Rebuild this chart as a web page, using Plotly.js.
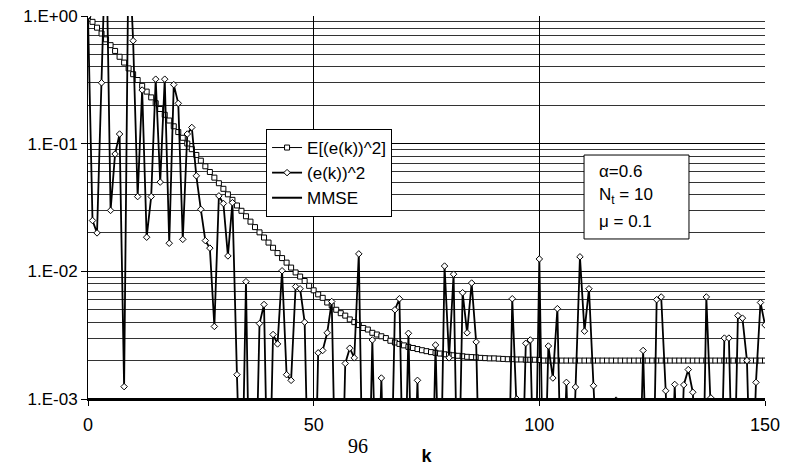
<!DOCTYPE html>
<html>
<head>
<meta charset="utf-8">
<script src="https://cdn.plot.ly/plotly-3.0.1.min.js"></script>
<style>html,body{margin:0;padding:0;background:#fff;}#chart{width:787px;height:466px;}</style>
</head>
<body>
<div id="chart"></div>
<script>
// iteration index k = 0..150
const k = Array.from({length: 151}, (_, i) => i);

// E[(e(k))^2]
const meanSq = [
 1.0, 0.9002, 0.8104, 0.7295, 0.6567, 0.5911, 0.5324, 0.4793, 0.4316, 0.3886,
 0.3500, 0.3152, 0.2839, 0.2557, 0.2304, 0.2075, 0.1869, 0.1684, 0.1518, 0.1368,
 0.1233, 0.1112, 0.1003, 0.0905, 0.0816, 0.0736, 0.0665, 0.0600, 0.0542, 0.0490,
 0.0443, 0.0401, 0.0363, 0.0328, 0.0298, 0.0270, 0.0245, 0.0222, 0.0202, 0.0184,
 0.0168, 0.0153, 0.0139, 0.0127, 0.0117, 0.0107, 0.0098, 0.0091, 0.0084, 0.0077,
 0.0071, 0.0066, 0.0062, 0.0057, 0.0054, 0.0050, 0.0047, 0.0045, 0.0042, 0.0040,
 0.0038, 0.0036, 0.0035, 0.0033, 0.0032, 0.0031, 0.0030, 0.00286, 0.00277, 0.00270,
 0.00263, 0.00256, 0.00251, 0.00246, 0.00241, 0.00237, 0.00233, 0.00230, 0.00227, 0.00224,
 0.00222, 0.00220, 0.00218, 0.00216, 0.00214, 0.00213, 0.00212, 0.00210, 0.00209, 0.00208,
 0.00208, 0.00207, 0.00206, 0.00205, 0.00205, 0.00204, 0.00204, 0.00203, 0.00203, 0.00203,
 0.00202, 0.002, 0.002, 0.002, 0.002, 0.002, 0.002, 0.002, 0.002, 0.002,
 0.002, 0.002, 0.002, 0.002, 0.002, 0.002, 0.002, 0.002, 0.002, 0.002,
 0.002, 0.002, 0.002, 0.002, 0.002, 0.002, 0.002, 0.002, 0.002, 0.002,
 0.002, 0.002, 0.002, 0.002, 0.002, 0.002, 0.002, 0.002, 0.002, 0.002,
 0.002, 0.002, 0.002, 0.002, 0.002, 0.002, 0.002, 0.002, 0.002, 0.002,
 0.002
];

// (e(k))^2 single realisation (values below 1E-03 fall off the chart)
const instSq = [
 1.0, 0.025, 0.020, 0.30, 5.0, 0.030, 0.083, 0.119, 0.00125, 4.0,
 0.64, 0.0385, 0.263, 0.0185, 0.0385, 0.32, 0.050, 0.32, 0.0166, 0.29,
 0.207, 0.0178, 0.119, 0.134, 0.056, 0.0306, 0.0174, 0.0152, 0.0037, 0.039,
 0.034, 0.0132, 0.0345, 0.00155, 0.0001, 0.0083, 0.00005, 0.0001, 0.0039, 0.0055,
 0.00008, 0.0032, 0.0027, 0.0101, 0.00155, 0.0014, 0.0076, 0.0073, 0.0040, 0.0001,
 0.00005, 0.0023, 0.0024, 0.0033, 0.0058, 0.0001, 0.00006, 0.0019, 0.0025, 0.0021,
 0.0137, 0.0001, 0.00007, 0.0029, 0.0001, 0.00146, 0.00005, 0.0001, 0.0050, 0.0061,
 0.0001, 0.00327, 0.00008, 0.0014, 0.00005, 0.0001, 0.00006, 0.00265, 0.0001, 0.011,
 0.0021, 0.0095, 0.0001, 0.0068, 0.0033, 0.0081, 0.0028, 0.00008, 0.00005, 0.0001,
 0.00006, 0.00005, 0.0001, 0.00008, 0.0061, 0.001, 0.0001, 0.00273, 0.0029, 0.0001,
 0.0125, 0.0001, 0.0026, 0.00146, 0.0051, 0.0001, 0.00135, 0.0001, 0.00124, 0.013,
 0.0034, 0.0073, 0.00127, 0.0001, 0.00005, 0.00008, 0.0001, 0.00098, 0.0001, 0.00005,
 0.00008, 0.00005, 0.0001, 0.0024, 0.0001, 0.00006, 0.0060, 0.0063, 0.00116, 0.0001,
 0.0013, 0.0001, 0.00129, 0.0017, 0.00113, 0.0001, 0.00005, 0.0063, 0.00102, 0.0001,
 0.00008, 0.0030, 0.0030, 0.0001, 0.0045, 0.0043, 0.0020, 0.0001, 0.00135, 0.0057,
 0.0038
];

// MMSE level
const mmseK = [0, 150];
const mmse = [0.001, 0.001];

const yTickVals = [0.001, 0.01, 0.1, 1];
const yTickText = ['1.E-03', '1.E-02', '1.E-01', '1.E+00'];
const xTickVals = [0, 50, 100, 150];

const FONT = 'Arial, "Liberation Sans", sans-serif';

const traces = [
  {
    x: k, y: meanSq, name: 'E[(e(k))^2]', type: 'scatter', mode: 'lines+markers',
    legendgroup: 'a',
    line: {color: '#000', width: 1},
    marker: {symbol: 'square', size: 5, color: '#fff', line: {color: '#000', width: 1}},
    cliponaxis: true
  },
  {
    x: k, y: instSq, name: '(e(k))^2', type: 'scatter', mode: 'lines+markers',
    legendgroup: 'b',
    line: {color: '#000', width: 1.8},
    marker: {symbol: 'diamond', size: 5, color: '#fff', line: {color: '#000', width: 1}},
    cliponaxis: true
  },
  {
    x: mmseK, y: mmse, name: 'MMSE', type: 'scatter', mode: 'lines',
    legendgroup: 'c',
    line: {color: '#000', width: 2},
    cliponaxis: false
  }
];

const layout = {
  width: 787, height: 466,
  margin: {l: 88, r: 22, t: 16, b: 67, pad: 0},
  paper_bgcolor: '#fff', plot_bgcolor: '#fff',
  font: {family: FONT, color: '#000', size: 17},
  showlegend: true,
  legend: {
    x: 0.263, y: 0.705, xanchor: 'left', yanchor: 'top',
    bgcolor: '#fff', bordercolor: '#000', borderwidth: 1,
    font: {family: FONT, size: 17, color: '#000'},
    tracegroupgap: 0, itemwidth: 30
  },
  xaxis: {
    range: [0, 150], tickmode: 'array', tickvals: xTickVals,
    ticks: 'outside', ticklen: 5, tickcolor: '#000', tickwidth: 1,
    showline: true, linecolor: '#000', linewidth: 2,
    showgrid: true, gridcolor: '#000', gridwidth: 1, zeroline: false,
    tickfont: {family: FONT, size: 18, color: '#000'},
    ticklabelstandoff: 3,
    title: {text: '<b>k</b>', font: {family: FONT, size: 18, color: '#000'}, standoff: 16}
  },
  yaxis: {
    type: 'log', range: [-3, 0], tickmode: 'array', tickvals: yTickVals, ticktext: yTickText,
    ticks: 'outside', ticklen: 6, tickcolor: '#000', tickwidth: 1,
    showline: true, linecolor: '#000', linewidth: 1,
    showgrid: true, gridcolor: '#000', gridwidth: 1, zeroline: false,
    tickfont: {family: FONT, size: 17, color: '#000'},
    minor: {dtick: 'D1', showgrid: true, gridcolor: '#333', gridwidth: 1, ticks: ''}
  },
  shapes: [
    {type: 'rect', xref: 'paper', yref: 'paper', x0: 0.7327, x1: 0.8877, y0: 0.4178, y1: 0.637,
     line: {color: '#000', width: 1}, fillcolor: '#fff', layer: 'above'}
  ],
  annotations: [
    {xref: 'paper', yref: 'paper', x: 0.752, y: 0.595, xanchor: 'left', yanchor: 'middle',
     text: 'α=0.6', showarrow: false, font: {family: FONT, size: 17, color: '#000'}},
    {xref: 'paper', yref: 'paper', x: 0.752, y: 0.530, xanchor: 'left', yanchor: 'middle',
     text: 'N<sub>t</sub> = 10', showarrow: false, font: {family: FONT, size: 17, color: '#000'}},
    {xref: 'paper', yref: 'paper', x: 0.752, y: 0.463, xanchor: 'left', yanchor: 'middle',
     text: 'μ = 0.1', showarrow: false, font: {family: FONT, size: 17, color: '#000'}},
    {xref: 'paper', yref: 'paper', x: 0.399, y: -0.123, xanchor: 'center', yanchor: 'middle',
     text: '96', showarrow: false, font: {family: '"Liberation Serif", "Times New Roman", serif', size: 20, color: '#000'}}
  ]
};

Plotly.newPlot('chart', traces, layout, {displayModeBar: false, staticPlot: true});
</script>
</body>
</html>
